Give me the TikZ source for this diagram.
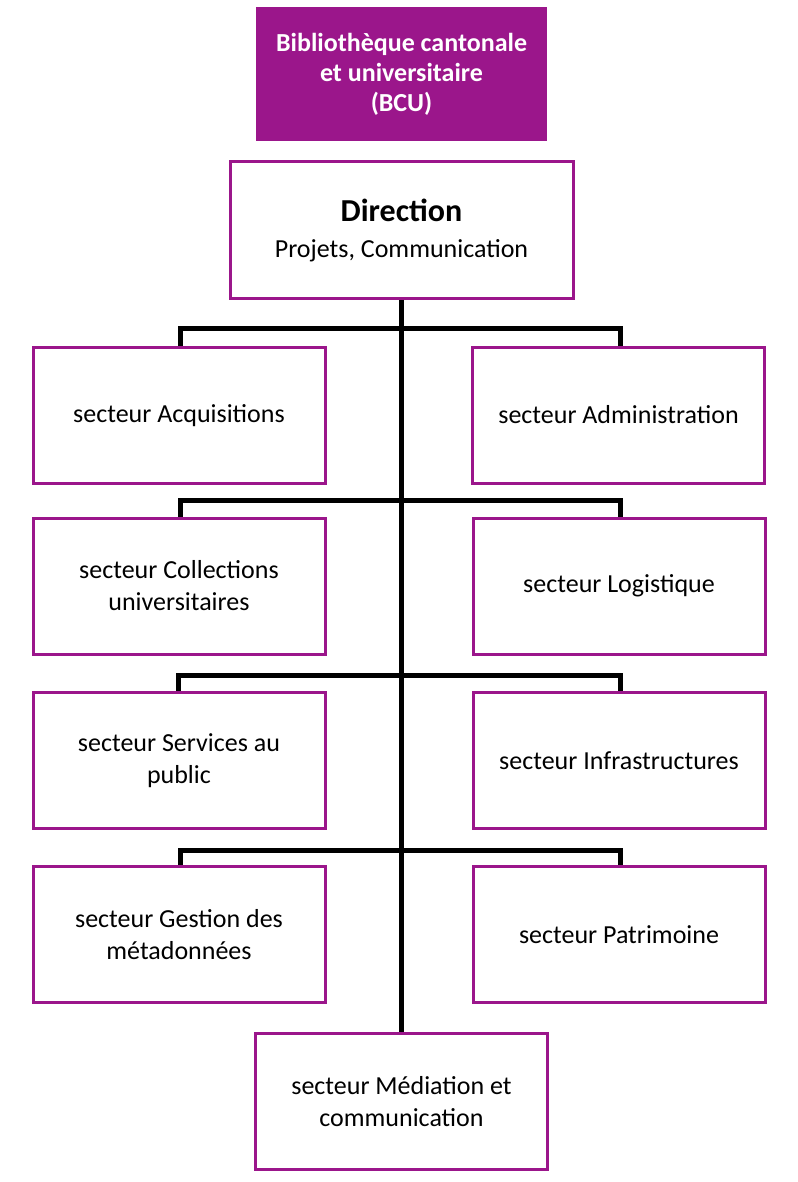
\documentclass[tikz,border=0pt]{standalone}
\usepackage{fontspec}
\setmainfont{Carlito}
\usetikzlibrary{positioning}
\definecolor{bcupurple}{HTML}{9B168B}
\tikzset{
  sector/.style={draw=bcupurple,line width=3pt,fill=white,minimum width=292pt,minimum height=136pt,
    align=center,font=\fontsize{26}{32}\selectfont,inner sep=0pt},
  link/.style={line width=5pt,black}
}
\begin{document}
\begin{tikzpicture}[x=1pt,y=-1pt]
  \useasboundingbox (0,0) rectangle (797,1182);

  \node[fill=bcupurple,minimum width=291pt,minimum height=134pt,align=center,text=white,
    font=\bfseries\fontsize{26}{30}\selectfont] (bcu) at (401.5,74) {Bibliothèque cantonale\\et universitaire\\(BCU)};

  % trunk first, boxes on top
  \coordinate (top) at (401.5,298);
  \coordinate (bot) at (401.5,1033);
  \draw[link] (top) -- (bot);

  \draw[link] (180,350) |- (401.5,328) -| (620,350);
  \draw[link] (180,519) |- (401.5,500) -| (620,519);
  \draw[link] (178,694) |- (401.5,675) -| (620,694);
  \draw[link] (180,868) |- (401.5,850) -| (620,868);

  \node[sector,minimum width=343pt] (dir) at (401.5,230)
    {{\bfseries\fontsize{32}{36}\selectfont Direction}\\[4pt]Projets, Communication};

  \node[sector] (acq) at (179,415.5) {secteur Acquisitions};
  \node[sector] (adm) at (618.5,415) {secteur Administration};
  \node[sector] (col) at (179,586) {secteur Collections\\universitaires};
  \node[sector] (log) at (619,586) {secteur Logistique};
  \node[sector] (pub) at (179,760.5) {secteur Services au\\public};
  \node[sector] (inf) at (619,760.5) {secteur Infrastructures};
  \node[sector] (meta) at (179,934.5) {secteur Gestion des\\métadonnées};
  \node[sector] (pat) at (619,934.5) {secteur Patrimoine};
  \node[sector] (med) at (401.5,1101.5) {secteur Médiation et\\communication};
\end{tikzpicture}
\end{document}
